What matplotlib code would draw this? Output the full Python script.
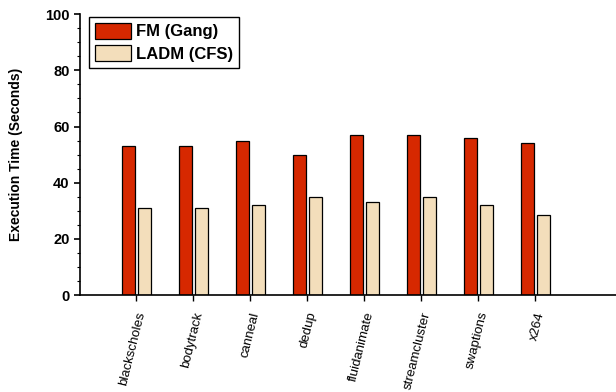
import matplotlib

matplotlib.use("Agg")
import matplotlib.pyplot as plt
import numpy as np
from matplotlib.ticker import MultipleLocator

plt.rcParams["font.family"] = ["Liberation Sans", "DejaVu Sans"]

benchmarks = ["blackscholes", "bodytrack", "canneal", "dedup",
              "fluidanimate", "streamcluster", "swaptions", "x264"]
fm_gang = [53, 53, 55, 50, 57, 57, 56, 54]
ladm_cfs = [31, 31, 32, 35, 33, 35, 32, 28.5]
series_names = ["FM (Gang)", "LADM (CFS)"]

RED = "#D62800"
CREAM = "#F3DEBB"

fig = plt.figure(figsize=(6.16, 3.92), dpi=100)
ax = fig.add_axes([0.13, 0.247, 0.87, 0.717])

x = np.arange(len(benchmarks))
w = 0.23
ax.bar(x - 0.135, fm_gang, w, color=RED, edgecolor="black", linewidth=0.9,
       label=series_names[0])
ax.bar(x + 0.145, ladm_cfs, w, color=CREAM, edgecolor="black", linewidth=0.9,
       label=series_names[1])

ax.set_xlim(-0.98, 8.42)
ax.set_ylim(0, 100)
ax.yaxis.set_major_locator(MultipleLocator(20))
ax.yaxis.set_minor_locator(MultipleLocator(5))
ax.tick_params(axis="y", which="major", length=4, width=1.2, labelsize=10.5)
ax.tick_params(axis="y", which="minor", length=2, width=0.8)
ax.tick_params(axis="x", which="major", length=4, width=1.0, pad=7)
for lab in ax.get_yticklabels():
    lab.set_fontweight("bold")

ax.set_xticks(x)
ax.set_xticklabels(benchmarks, rotation=76, ha="right", va="top",
                   rotation_mode="anchor", fontsize=9.5)

ax.spines["top"].set_visible(False)
ax.spines["right"].set_visible(False)
ax.spines["left"].set_linewidth(1.2)
ax.spines["bottom"].set_linewidth(1.2)

ax.set_ylabel("Execution Time (Seconds)", fontsize=10, fontweight="bold",
              labelpad=16)

leg = ax.legend(loc="upper left", bbox_to_anchor=(0.017, 0.99), frameon=True,
                fancybox=False, edgecolor="black", framealpha=1,
                prop={"weight": "bold", "size": 12},
                handlelength=2.15, handleheight=1.08, borderpad=0.35,
                labelspacing=0.35, handletextpad=0.3, borderaxespad=0)
leg.get_frame().set_linewidth(1.0)

fig.savefig("out.png", dpi=100)
